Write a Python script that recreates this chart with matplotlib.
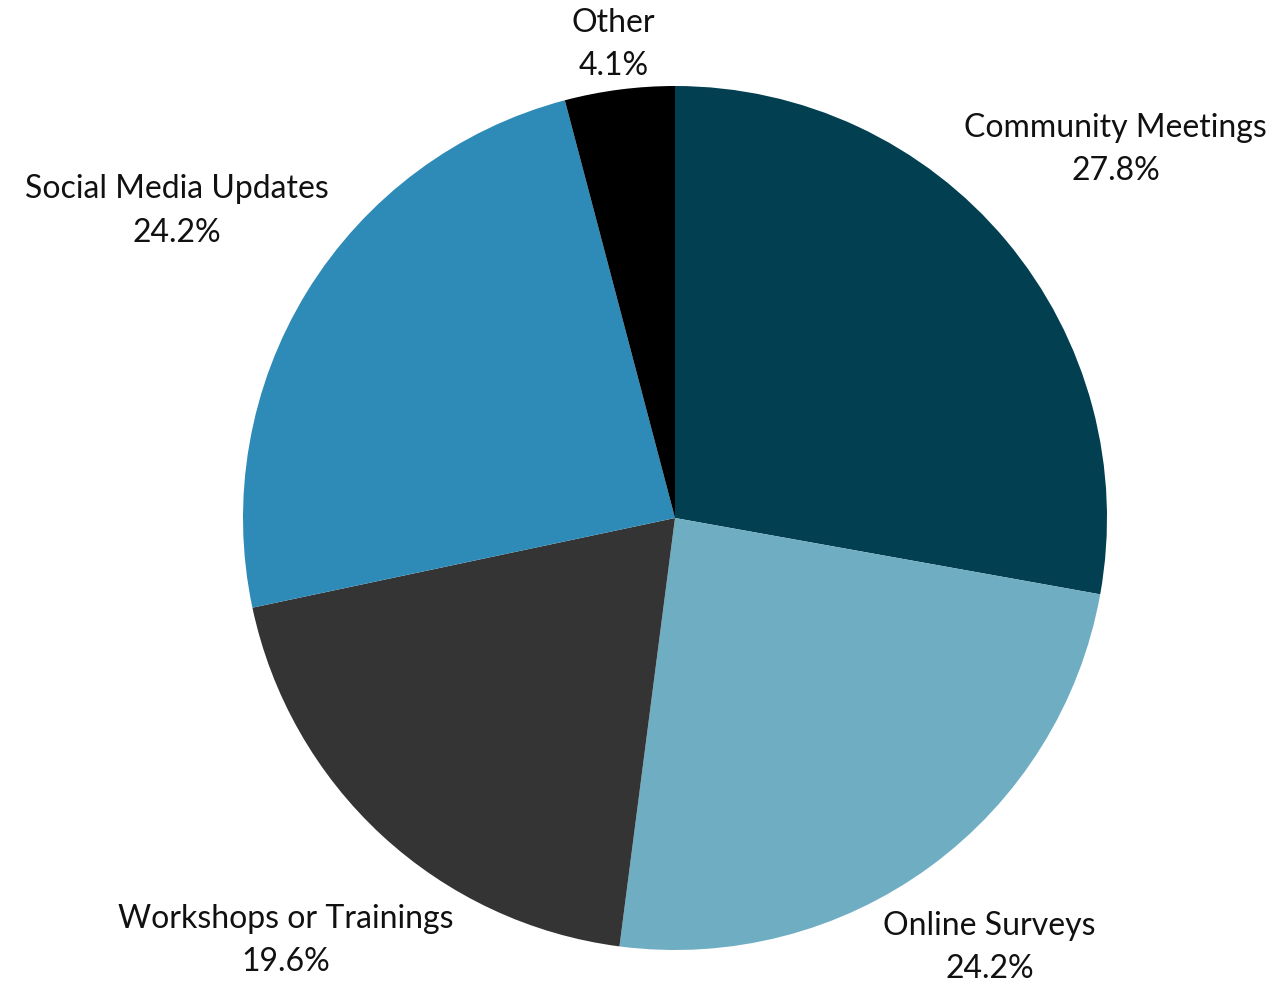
import numpy as np
import matplotlib
matplotlib.use("Agg")
import matplotlib.pyplot as plt

categories = ["Community Meetings", "Online Surveys", "Workshops or Trainings",
              "Social Media Updates", "Other"]
values = [27.8, 24.2, 19.6, 24.2, 4.1]
colors = ["#023f51", "#6fadc3", "#343434", "#2e8bb8", "#000000"]
label_dist = [1.33, 1.232, 1.33, 1.355, 1.105]

plt.rcParams['font.family'] = ['Lato', 'DejaVu Sans']

fig = plt.figure(figsize=(12.76, 9.85), dpi=100)
R = 432
cx, cy = 675, 985 - 518
ax = fig.add_axes([(cx - R) / 1276, (cy - R) / 985, 2 * R / 1276, 2 * R / 985])

wedges, _ = ax.pie(values, colors=colors, startangle=90, counterclock=False,
                   radius=1.0, wedgeprops=dict(linewidth=0))
ax.set_xlim(-1, 1)
ax.set_ylim(-1, 1)
ax.set_aspect('auto')
ax.axis('off')

for w, cat, v, d in zip(wedges, categories, values, label_dist):
    ang = np.deg2rad((w.theta1 + w.theta2) / 2)
    ax.text(d * np.cos(ang), d * np.sin(ang), f"{cat}\n{v:.1f}%",
            ha='center', va='center', fontsize=23, linespacing=1.55,
            color='#111111', clip_on=False)

fig.savefig("out.png", dpi=100)
